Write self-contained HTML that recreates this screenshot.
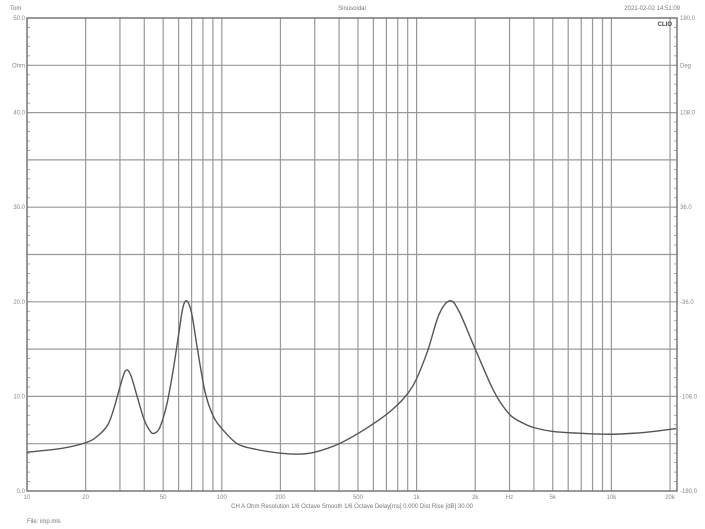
<!DOCTYPE html>
<html><head><meta charset="utf-8"><style>
html,body{margin:0;padding:0;background:#fff;}
svg{display:block;font-family:"Liberation Sans",sans-serif;}
</style></head><body>
<svg id="s" width="705" height="529" xmlns="http://www.w3.org/2000/svg">
<g id="grid"></g>
<text x="10" y="10" font-size="6" fill="#777">Tom</text>
<text x="352" y="10" font-size="6" fill="#777" text-anchor="middle">Sinusoidal</text>
<text x="680" y="10" font-size="6" fill="#777" text-anchor="end">2021-02-02 14:51:09</text>
<text x="672" y="26" font-size="6" fill="#444" font-weight="bold" text-anchor="end">CLIO</text>
<text x="352" y="508" font-size="6" fill="#777" text-anchor="middle">CH A  Ohm  Resolution 1/6 Octave  Smooth 1/6 Octave  Delay[ms] 0.000  Dist Rise [dB] 30.00</text>
<text x="27" y="523" font-size="6" fill="#777">File: imp.mls</text>
<path id="curve" fill="none" stroke="#555" stroke-width="1.4"/>
</svg>
<script>
const L=27,R=677,T=18,B=491,pd=194.8;
const X=f=>L+pd*Math.log10(f/10), Y=o=>B-(B-T)*o/50;
let g='';
const ln=(x1,y1,x2,y2,c,w)=>g+=`<line x1="${x1}" y1="${y1}" x2="${x2}" y2="${y2}" stroke="${c}" stroke-width="${w}"/>`;
for(let d=10;d<=10000;d*=10)for(let k=1;k<10;k++){const f=d*k;if(f<=10||f>22000)continue;const x=X(f);ln(x,T,x,B,'#999',1.2);}
for(let o=5;o<50;o+=5){ln(L,Y(o),R,Y(o),'#999',1.2);}
for(let o=1;o<50;o++){ln(L,Y(o),L+3,Y(o),'#999',0.8);ln(R-3,Y(o),R,Y(o),'#999',0.8);}
g+=`<rect x="${L}" y="${T}" width="${R-L}" height="${B-T}" fill="none" stroke="#777" stroke-width="1.5"/>`;
const lt=(x,y,t,a)=>g+=`<text x="${x}" y="${y}" font-size="6" fill="#888" text-anchor="${a}">${t}</text>`;
[[50,'50.0','180.0'],[45,'Ohm','Deg'],[40,'40.0','108.0'],[30,'30.0','36.0'],[20,'20.0','-36.0'],[10,'10.0','-108.0'],[0,'0.0','-180.0']].forEach(a=>{lt(L-2,Y(a[0])+2,a[1],'end');lt(R+3,Y(a[0])+2,a[2],'start');});
[[10,'10'],[20,'20'],[50,'50'],[100,'100'],[200,'200'],[500,'500'],[1000,'1k'],[2000,'2k'],[5000,'5k'],[10000,'10k'],[20000,'20k']].forEach(a=>lt(X(a[0]),499,a[1],'middle'));
lt(X(3000),499,'Hz','middle');
document.getElementById('grid').innerHTML=g;
const p=[[10,4.1],[15,4.5],[20,5.1],[23,5.8],[26,7.0],[28,8.8],[30,11.0],[32,12.7],[34,12.3],[37,9.8],[40,7.5],[43,6.3],[45,6.1],[48,6.7],[52,9.0],[56,12.5],[60,16.5],[63,19.3],[66,20.1],[70,18.8],[75,15],[82,10.5],[90,8.0],[100,6.6],[120,5.0],[150,4.4],[200,4.0],[250,3.9],[300,4.1],[400,5.0],[550,6.6],[750,8.6],[950,11.0],[1130,14.6],[1300,18.6],[1480,20.1],[1650,19.0],[2000,15.0],[2500,10.5],[3000,8.1],[3500,7.2],[4000,6.7],[5000,6.3],[7000,6.1],[10000,6.0],[15000,6.2],[21500,6.6]].map(a=>[X(a[0]),Y(a[1])]);
let d=`M${p[0][0]},${p[0][1]}`;
for(let i=0;i<p.length-1;i++){const p0=p[Math.max(0,i-1)],p1=p[i],p2=p[i+1],p3=p[Math.min(p.length-1,i+2)];
d+=` C${p1[0]+(p2[0]-p0[0])/6},${p1[1]+(p2[1]-p0[1])/6} ${p2[0]-(p3[0]-p1[0])/6},${p2[1]-(p3[1]-p1[1])/6} ${p2[0]},${p2[1]}`;}
document.getElementById('curve').setAttribute('d',d);
</script>
</body></html>
